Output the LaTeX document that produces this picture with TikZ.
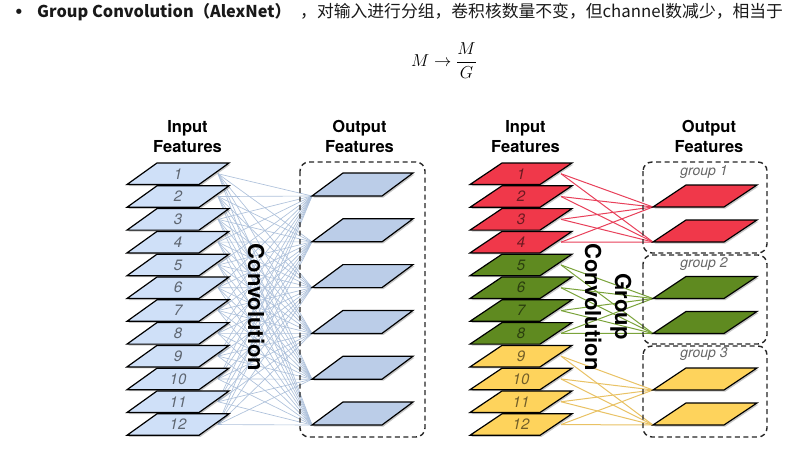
\documentclass[tikz,border=0pt]{standalone}
\usepackage{fontspec}
\setmainfont{TeX Gyre Heros}
\newfontfamily\cjk{Noto Sans CJK SC}
\newfontfamily\dejavu{DejaVu Sans}
\definecolor{inblue}{HTML}{CFE0F8}
\definecolor{outblue}{HTML}{BBCDE8}
\definecolor{lnblue}{HTML}{AEC1DB}
\definecolor{gred}{HTML}{F0384A}
\definecolor{ggreen}{HTML}{5F8A20}
\definecolor{gyellow}{HTML}{FED35C}
\definecolor{rline}{HTML}{E8405A}
\definecolor{gline}{HTML}{7AA33A}
\definecolor{yline}{HTML}{E9C264}
\newcommand\mypara[6]{%
  \fill[black,opacity=0.22] (#1+1.5,#2+1.5) -- ++(#3,0) -- ++(#4,-#5) -- ++(-#3,0) -- cycle;
  \filldraw[parabox, fill=#6] (#1,#2) -- ++(#3,0) -- ++(#4,-#5) -- ++(-#3,0) -- cycle;
}
\begin{document}
\begin{tikzpicture}[x=1pt,y=-1pt,
  hdr/.style={font=\fontsize{16.5}{20}\selectfont\bfseries, anchor=base, inner sep=0},
  num/.style={font=\fontsize{15}{18}\selectfont\itshape, text=black, text opacity=0.55, inner sep=0},
  glabel/.style={font=\fontsize{14}{17}\selectfont\itshape, text=black!60, anchor=base, inner sep=0},
  conv/.style={font=\fontsize{22}{26}\selectfont\bfseries, rotate=-90, anchor=base, inner sep=0},
  grpbox/.style={draw=black!85, dash pattern=on 5pt off 3.5pt, line width=1.4pt, rounded corners=9pt},
  parabox/.style={draw=black, line width=1.2pt, line join=miter},
  lline/.style={draw=lnblue, line width=0.65pt},
  rl/.style={draw=rline, line width=1pt},
  gl/.style={draw=gline, line width=1pt},
  yl/.style={draw=yline, line width=1pt}]
\fill[white] (0,0) rectangle (797,455);
\useasboundingbox (0,0) rectangle (797,455);

% header
\node[font=\dejavu\fontsize{18}{20}\selectfont, anchor=base, inner sep=0, text=black!90] (bul) at (19,18.8) {•};
\node[anchor=base west, inner sep=0, font=\cjk\fontsize{16.3}{18}\selectfont, text=black!90] (head) at (37,17.5)
  {\textbf{Group Convolution（AlexNet）}};
\node[anchor=base west, inner sep=0, font=\cjk\fontsize{16.8}{18}\selectfont, text=black!90] (head2) at (300,17.5)
  {，对输入进行分组，卷积核数量不变，但channel数减少，相当于};
\node[anchor=base west, inner sep=0, font=\fontsize{18.5}{22}\selectfont] (formula) at (411,66.5)
  {$\displaystyle M\to\frac{M}{G}$};

% coordinates
\foreach \i in {1,...,12}{
  \pgfmathsetmacro\yb{184.5+22.8*(\i-1)}
  \coordinate (Li\i) at (218,\yb-10.75);
  \coordinate (Ri\i) at (561,\yb-10.75);
}
\foreach \j in {1,...,6}{
  \pgfmathsetmacro\yo{196+45.8*(\j-1)}
  \coordinate (Lo\j) at (312,\yo);
}
\foreach \g in {1,2,3}{
  \pgfmathsetmacro\ya{207+91.5*(\g-1)}
  \pgfmathtruncatemacro\ja{2*\g-1}
  \pgfmathtruncatemacro\jb{2*\g}
  \coordinate (Ro\ja) at (653,\ya);
  \coordinate (Ro\jb) at (653,\ya+35);
}

% connectors
\foreach \i in {1,...,12}{
  \foreach \j in {1,...,6}{
    \draw[lline] (Li\i) -- (Lo\j);
  }
}
\foreach \i in {1,...,4}{\foreach \j in {1,2}{\draw[rl] (Ri\i) -- (Ro\j);}}
\foreach \i in {5,...,8}{\foreach \j in {3,4}{\draw[gl] (Ri\i) -- (Ro\j);}}
\foreach \i in {9,...,12}{\foreach \j in {5,6}{\draw[yl] (Ri\i) -- (Ro\j);}}

% dashed boxes
\draw[grpbox] (300,162) rectangle (425,437);
\draw[grpbox] (643,162) rectangle (767,253);
\draw[grpbox] (643,255) rectangle (767,344);
\draw[grpbox] (643,346) rectangle (767,437);

% left inputs
\foreach \i in {12,11,...,1}{
  \pgfmathsetmacro\yb{184.5+22.8*(\i-1)}
  \mypara{127}{\yb}{72}{30}{21.5}{inblue}
  \node[num] (Ln\i) at (178,\yb-10.75) {\i};
}
% right inputs
\foreach \i/\c in {12/gyellow,11/gyellow,10/gyellow,9/gyellow,8/ggreen,7/ggreen,6/ggreen,5/ggreen,4/gred,3/gred,2/gred,1/gred}{
  \pgfmathsetmacro\yb{184.5+22.8*(\i-1)}
  \mypara{470}{\yb}{70}{32}{21.5}{\c}
  \node[num] (Rn\i) at (521,\yb-10.75) {\i};
}
% left outputs
\foreach \j in {1,...,6}{
  \pgfmathsetmacro\yo{196+45.8*(\j-1)}
  \mypara{312}{\yo}{70}{31}{23}{outblue}
}
% right outputs
\foreach \g/\c in {1/gred,2/ggreen,3/gyellow}{
  \pgfmathsetmacro\ya{207+91.5*(\g-1)}
  \mypara{653}{\ya}{71}{33}{22}{\c}
  \mypara{653}{\ya+35}{71}{33}{22}{\c}
}

% group labels
\node[glabel] (g1) at (704,175) {group 1};
\node[glabel] (g2) at (704,267) {group 2};
\node[glabel] (g3) at (704,357.5) {group 3};

% headers
\node[hdr] (h1a) at (187.5,132) {Input};
\node[hdr] (h1b) at (187.5,152) {Features};
\node[hdr] (h2a) at (359.5,132) {Output};
\node[hdr] (h2b) at (359.5,152) {Features};
\node[hdr] (h3a) at (525.5,132) {Input};
\node[hdr] (h3b) at (525.5,152) {Features};
\node[hdr] (h4a) at (709,132) {Output};
\node[hdr] (h4b) at (709,152) {Features};

% vertical labels
\node[conv] (c1) at (248,307.5) {Convolution};
\node[conv] (c2) at (585,307) {Convolution};
\node[conv] (c3) at (615,306.5) {Group};
\end{tikzpicture}
\end{document}
